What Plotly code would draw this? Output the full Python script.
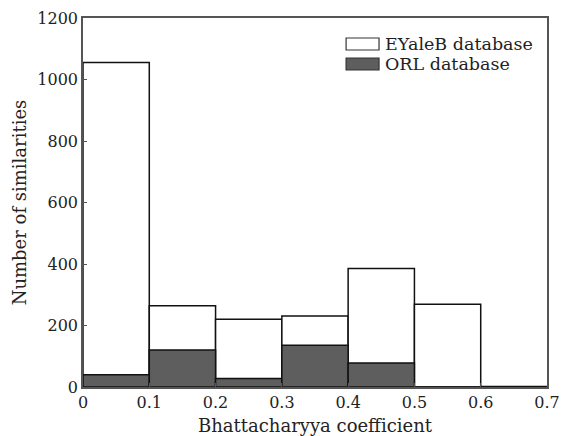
import plotly.graph_objects as go

bins = [0.05, 0.15, 0.25, 0.35, 0.45, 0.55, 0.65]
eyaleb = [1055, 264, 220, 231, 385, 269, 2]
orl = [40, 120, 28, 136, 78, 0, 0]
xticks = [0, 0.1, 0.2, 0.3, 0.4, 0.5, 0.6, 0.7]
yticks = [0, 200, 400, 600, 800, 1000, 1200]
series_names = ["EYaleB database", "ORL database"]
series_colors = ["white", "#5e5e5e"]

font = "DejaVu Serif"
fig = go.Figure()
for name, vals, col in zip(series_names, [eyaleb, orl], series_colors):
    fig.add_trace(go.Bar(x=bins, y=vals, width=0.1, name=name, showlegend=False,
                         marker=dict(color=col, line=dict(color="#111111", width=1.5))))

# manual legend (wide swatches like the reference)
sw_x = (0.567, 0.638)
rows = [(0.9133, 0.9458, 0.9295), (0.8591, 0.8916, 0.8753)]
for (y0, y1, yc), name, col in zip(rows, series_names, series_colors):
    fig.add_shape(type="rect", xref="paper", yref="paper", x0=sw_x[0], x1=sw_x[1],
                  y0=y0, y1=y1, fillcolor=col, line=dict(color="#333333", width=1.2))
    fig.add_annotation(xref="paper", yref="paper", x=0.649, y=yc, xanchor="left",
                       yanchor="middle", text=name, showarrow=False, borderpad=0,
                       font=dict(family=font, size=17.5, color="#222222"))

fig.update_layout(
    width=564, height=436, barmode="overlay",
    margin=dict(l=83, r=17, t=18, b=49),
    plot_bgcolor="white", paper_bgcolor="white",
    font=dict(family=font, size=16, color="#222222"),
    showlegend=False,
)
fig.update_xaxes(range=[0, 0.7], tickvals=xticks, ticktext=[str(v) for v in xticks],
                 showline=True, mirror=True, linecolor="#555555", linewidth=1.5,
                 ticks="inside", ticklen=4, tickcolor="#555555", showgrid=False,
                 zeroline=False, automargin=False,
                 title=dict(text="Bhattacharyya coefficient", standoff=8, font=dict(size=18)))
fig.update_yaxes(range=[0, 1200], tickvals=yticks,
                 showline=True, mirror=True, linecolor="#555555", linewidth=1.5,
                 ticks="inside", ticklen=4, tickcolor="#555555", showgrid=False,
                 zeroline=False, automargin=False,
                 title=dict(text="Number of similarities", standoff=6, font=dict(size=18)))
fig.write_html("out.html")
